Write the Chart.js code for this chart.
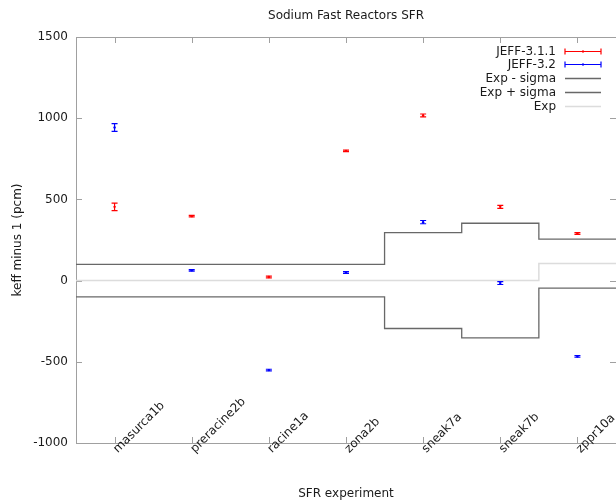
<!DOCTYPE html>
<html>
<head>
<meta charset="utf-8">
<script src="https://cdn.jsdelivr.net/npm/chart.js@4"></script>
<style>
html, body { margin: 0; padding: 0; background: #fff; overflow: hidden; }
#wrap { width: 616px; height: 502px; overflow: hidden; }
</style>
</head>
<body>
<div id="wrap"><canvas id="sfr" width="620" height="502"></canvas></div>
<script>
const experiments = ['masurca1b', 'preracine2b', 'racine1a', 'zona2b', 'sneak7a', 'sneak7b', 'zppr10a'];
const jeff311 = [454, 397, 22, 799, 1017, 454, 290];
const jeff311Err = [23, 5, 5, 5, 9, 9, 5];
const jeff32 = [943, 63, -551, 50, 360, -15, -467];
const jeff32Err = [24, 5, 5, 5, 10, 9, 5];
const expValue = [0, 0, 0, 0, 0, 0, 105];
const expSigma = [100, 100, 100, 100, 295, 353, 151];
const yTicks = [-1000, -500, 0, 500, 1000, 1500];

const FONT = '"DejaVu Sans", sans-serif';
const TEXT = '#1a1a1a';
const FRAME = '#a0a0a0';
const TITLE = 'Sodium Fast Reactors SFR';

// stepped line: one flat segment per experiment, changing at the half positions
function steps(vals) {
    const pts = vals.map((v, i) => ({x: i - 0.5, y: v}));
    pts.push({x: vals.length - 0.5, y: vals[vals.length - 1]});
    return pts;
}

const frame = {
    id: 'frame',
    beforeDatasetsDraw(chart) {
        const {ctx, chartArea: a, scales: {x, y}} = chart;
        ctx.save();
        ctx.strokeStyle = FRAME;
        ctx.lineWidth = 1;
        ctx.strokeRect(a.left + 0.5, a.top + 0.5, a.right - a.left, a.bottom - a.top);
        ctx.beginPath();
        yTicks.forEach(v => {
            const py = Math.round(y.getPixelForValue(v)) + 0.5;
            ctx.moveTo(a.left, py); ctx.lineTo(a.left + 6, py);
            ctx.moveTo(a.right, py); ctx.lineTo(a.right - 6, py);
        });
        experiments.forEach((c, i) => {
            const px = Math.round(x.getPixelForValue(i)) + 0.5;
            ctx.moveTo(px, a.bottom); ctx.lineTo(px, a.bottom - 6);
            ctx.moveTo(px, a.top); ctx.lineTo(px, a.top + 6);
        });
        ctx.stroke();
        ctx.restore();
    },
    afterDraw(chart) {
        const {ctx, chartArea: a, scales: {x}} = chart;
        ctx.save();
        ctx.font = '12px ' + FONT;
        ctx.fillStyle = TEXT;
        // title sits over the middle of the plot, not the canvas
        ctx.textAlign = 'center';
        ctx.textBaseline = 'middle';
        ctx.fillText(TITLE, (a.left + a.right) / 2, 16);
        // rotated experiment names, drawn from the tick upwards to the right
        ctx.textAlign = 'left';
        experiments.forEach((c, i) => {
            ctx.save();
            ctx.translate(x.getPixelForValue(i) + 1, a.bottom + 8);
            ctx.rotate(-Math.PI / 4);
            ctx.fillText(c, 0, 0);
            ctx.restore();
        });
        ctx.restore();
    }
};

const errorBars = {
    id: 'errorBars',
    afterDatasetsDraw(chart) {
        const {ctx, scales: {x, y}} = chart;
        chart.data.datasets.forEach(ds => {
            if (!ds.errors) return;
            ctx.save();
            ctx.strokeStyle = ds.borderColor;
            ctx.lineWidth = 1.2;
            ctx.beginPath();
            ds.data.forEach((p, i) => {
                const px = x.getPixelForValue(p.x);
                const top = y.getPixelForValue(p.y + ds.errors[i]);
                const bot = y.getPixelForValue(p.y - ds.errors[i]);
                ctx.moveTo(px, top); ctx.lineTo(px, bot);
                ctx.moveTo(px - 3, top); ctx.lineTo(px + 3, top);
                ctx.moveTo(px - 3, bot); ctx.lineTo(px + 3, bot);
            });
            ctx.stroke();
            ctx.restore();
        });
    }
};

const keyBox = {
    id: 'keyBox',
    afterDraw(chart) {
        const {ctx, chartArea: a} = chart;
        const textRight = a.right - 60;
        const x0 = a.right - 51, x1 = a.right - 15;
        ctx.save();
        ctx.font = '12px ' + FONT;
        ctx.textAlign = 'right';
        ctx.textBaseline = 'middle';
        chart.data.datasets.forEach((ds, k) => {
            const yy = Math.round(a.top + 13.5 + k * 13.9) + 0.5;
            ctx.fillStyle = TEXT;
            ctx.fillText(ds.label, textRight, yy);
            ctx.strokeStyle = ds.borderColor;
            ctx.lineWidth = ds.errors ? 1.2 : ds.borderWidth;
            ctx.beginPath();
            ctx.moveTo(x0, yy); ctx.lineTo(x1, yy);
            if (ds.errors) {
                ctx.moveTo(x0, yy - 3); ctx.lineTo(x0, yy + 3);
                ctx.moveTo(x1, yy - 3); ctx.lineTo(x1, yy + 3);
            }
            ctx.stroke();
            if (ds.errors) {
                ctx.fillStyle = ds.borderColor;
                ctx.fillRect((x0 + x1) / 2 - 1, yy - 1, 2, 2);
            }
        });
        ctx.restore();
    }
};

new Chart(document.getElementById('sfr'), {
    type: 'scatter',
    data: {
        datasets: [
            {
                label: 'JEFF-3.1.1',
                data: jeff311.map((v, i) => ({x: i, y: v})),
                errors: jeff311Err,
                borderColor: '#ff0000',
                backgroundColor: '#ff0000',
                pointRadius: 1.2,
                borderWidth: 0,
            },
            {
                label: 'JEFF-3.2',
                data: jeff32.map((v, i) => ({x: i, y: v})),
                errors: jeff32Err,
                borderColor: '#0000ff',
                backgroundColor: '#0000ff',
                pointRadius: 1.2,
                borderWidth: 0,
            },
            {
                label: 'Exp - sigma',
                type: 'line',
                data: steps(expValue.map((v, i) => v - expSigma[i])),
                stepped: 'before',
                borderColor: '#686868',
                borderWidth: 1.3,
                pointRadius: 0,
                fill: false,
            },
            {
                label: 'Exp + sigma',
                type: 'line',
                data: steps(expValue.map((v, i) => v + expSigma[i])),
                stepped: 'before',
                borderColor: '#686868',
                borderWidth: 1.3,
                pointRadius: 0,
                fill: false,
            },
            {
                label: 'Exp',
                type: 'line',
                data: steps(expValue),
                stepped: 'before',
                borderColor: '#dcdcdc',
                borderWidth: 1.5,
                pointRadius: 0,
                fill: false,
            },
        ],
    },

    options: {
        responsive: false,
        animation: false,
        devicePixelRatio: 1,
        layout: {
            padding: {left: 0, right: 2, top: 37, bottom: 0},
        },
        scales: {
            x: {
                type: 'linear',
                min: -0.5,
                max: experiments.length - 0.5,
                afterBuildTicks: s => { s.ticks = experiments.map((c, i) => ({value: i})); },
                afterFit: s => { s.height = 59; },
                ticks: {display: false},
                grid: {display: false, drawTicks: false},
                border: {display: false},
                title: {
                    display: true,
                    text: 'SFR experiment',
                    color: TEXT,
                    font: {family: FONT, size: 12},
                    padding: {top: 0, bottom: 1},
                },
            },
            y: {
                min: -1000,
                max: 1500,
                afterBuildTicks: s => { s.ticks = yTicks.map(v => ({value: v})); },
                afterFit: s => { s.width = 76; },
                ticks: {
                    padding: 8,
                    color: TEXT,
                    font: {family: FONT, size: 12},
                    callback: v => String(v),
                },
                grid: {display: false, drawTicks: false},
                border: {display: false},
                title: {
                    display: true,
                    text: 'keff minus 1 (pcm)',
                    color: TEXT,
                    font: {family: FONT, size: 12},
                    padding: {top: 11, bottom: 0},
                },
            },
        },
        plugins: {
            legend: {display: false},
            tooltip: {enabled: false},
        },
    },
    plugins: [frame, errorBars, keyBox],
});
</script>
</body>
</html>
